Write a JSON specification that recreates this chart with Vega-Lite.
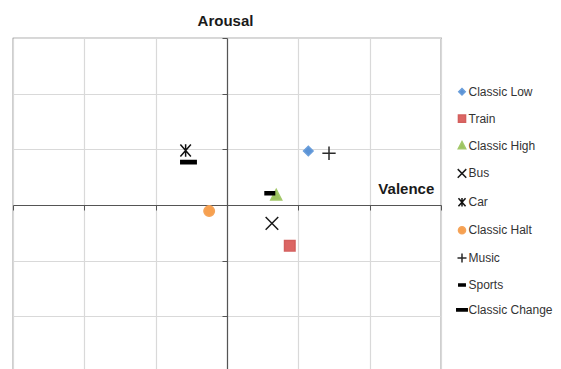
{
  "$schema": "https://vega.github.io/schema/vega-lite/v6.json",
  "width": 428,
  "height": 334,
  "autosize": {"type": "none"},
  "padding": {"left": 13, "top": 38, "right": 120, "bottom": 0},
  "background": "white",
  "data": {
    "values": [
      {"series": "Classic Low", "valence": 1.14, "arousal": 0.97},
      {"series": "Train", "valence": 0.88, "arousal": -0.73},
      {"series": "Classic High", "valence": 0.69, "arousal": 0.18},
      {"series": "Bus", "valence": 0.63, "arousal": -0.33},
      {"series": "Car", "valence": -0.58, "arousal": 0.98},
      {"series": "Classic Halt", "valence": -0.25, "arousal": -0.11},
      {"series": "Music", "valence": 1.43, "arousal": 0.93},
      {"series": "Sports", "valence": 0.6, "arousal": 0.21},
      {"series": "Classic Change", "valence": -0.54, "arousal": 0.77}
    ]
  },
  "mark": {"type": "point", "filled": true, "size": 196, "strokeWidth": 1.5, "opacity": 1},
  "encoding": {
    "x": {
      "field": "valence",
      "type": "quantitative",
      "scale": {"domain": [-3, 3], "nice": false, "zero": false},
      "axis": {
        "orient": "bottom",
        "offset": -167,
        "values": [-3, -2, -1, 0, 1, 2, 3],
        "labels": false,
        "title": "Valence",
        "titleX": 392.8,
        "titleY": -11.7,
        "titleAlign": "center",
        "titleBaseline": "alphabetic"
      }
    },
    "y": {
      "field": "arousal",
      "type": "quantitative",
      "scale": {"domain": [-3, 3], "nice": false, "zero": false},
      "axis": {
        "orient": "left",
        "offset": -214,
        "values": [-3, -2, -1, 0, 1, 2, 3],
        "labels": false,
        "title": "Arousal",
        "titleAngle": 0,
        "titleX": -2,
        "titleY": -12.3,
        "titleAlign": "center",
        "titleBaseline": "alphabetic"
      }
    },
    "shape": {
      "field": "series",
      "type": "nominal",
      "scale": {
        "domain": ["Classic Low", "Train", "Classic High", "Bus", "Car", "Classic Halt", "Music", "Sports", "Classic Change"],
        "range": [
          "M0,-0.68L0.68,0L0,0.68L-0.68,0Z",
          "M-0.75,-0.75L0.75,-0.75L0.75,0.75L-0.75,0.75Z",
          "M0,-0.8L0.78,0.7L-0.78,0.7Z",
          "M-0.9,-0.9L0.9,0.9M-0.9,0.9L0.9,-0.9",
          "M-0.75,-0.85L0.75,0.85M-0.75,0.85L0.75,-0.85M0,-0.9L0,0.9",
          "M0.75,0A0.75,0.75 0 1,1 -0.75,0A0.75,0.75 0 1,1 0.75,0Z",
          "M-0.95,0L0.95,0M0,-0.95L0,0.95",
          "M-0.68,-0.22L0.68,-0.22L0.68,0.22L-0.68,0.22Z",
          "M-1.1,-0.22L1.1,-0.22L1.1,0.22L-1.1,0.22Z"
        ]
      }
    },
    "fill": {
      "field": "series",
      "type": "nominal",
      "scale": {
        "domain": ["Classic Low", "Train", "Classic High", "Bus", "Car", "Classic Halt", "Music", "Sports", "Classic Change"],
        "range": ["#5B93D6", "#DC6664", "#9DC45F", "#000000", "#000000", "#F7A04F", "#000000", "#000000", "#000000"]
      }
    },
    "stroke": {
      "field": "series",
      "type": "nominal",
      "scale": {
        "domain": ["Classic Low", "Train", "Classic High", "Bus", "Car", "Classic Halt", "Music", "Sports", "Classic Change"],
        "range": ["#6A9EDB", "#D35F5D", "#A3C86A", "#1a1a1a", "#111111", "#F5A45A", "#2a2a2a", "#000000", "#000000"]
      }
    }
  },
  "config": {
    "font": "Liberation Sans",
    "view": {"stroke": "#5f5f5f", "strokeWidth": 1.2},
    "axis": {
      "grid": true,
      "gridColor": "#d9d9d9",
      "gridWidth": 1.2,
      "domainColor": "#555555",
      "domainWidth": 1.2,
      "tickColor": "#555555",
      "tickSize": 5,
      "tickWidth": 1,
      "titleFont": "Liberation Sans",
      "titleFontSize": 15,
      "titleFontWeight": "bold",
      "titleColor": "#1a1a1a",
      "titlePadding": 0
    },
    "legend": {
      "orient": "none",
      "legendX": 443,
      "legendY": 47.7,
      "title": null,
      "padding": 0,
      "symbolSize": 90,
      "symbolStrokeWidth": 1.5,
      "labelFont": "Liberation Sans",
      "labelFontSize": 12,
      "labelColor": "#333333",
      "labelOffset": 0.5,
      "rowPadding": 12.9,
      "labelLimit": 200
    }
  }
}
